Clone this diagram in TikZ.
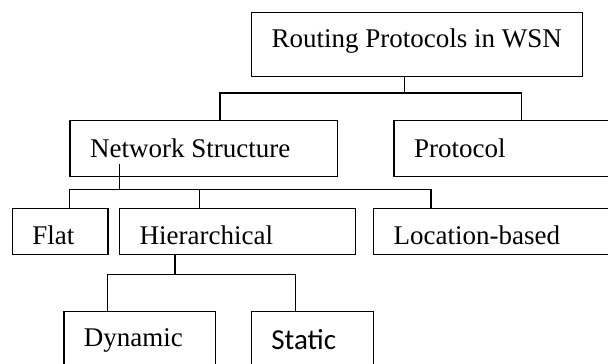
\documentclass[tikz,border=0pt]{standalone}
\usepackage{fontspec}
\setmainfont{Liberation Serif}
\newfontfamily\calibrifont{Carlito}
\usetikzlibrary{positioning}

\tikzset{
  box/.style={draw, line width=1.3pt, anchor=north west, inner xsep=20pt, inner ysep=0pt,
    align=flush left, text height=17pt, text depth=0pt, font=\fontsize{27}{30}\selectfont},
  wire/.style={line width=1.3pt}
}

\begin{document}
\begin{tikzpicture}[x=1pt,y=-1pt]
\useasboundingbox (0,0) rectangle (608,364);
\clip (0,0) rectangle (608,364);

\node[box, text width=290.7pt, minimum height=64.3pt, text depth=11.4pt] (rp) at (251,11.7) {Routing Protocols in WSN};
\node[box, text width=227.6pt, minimum height=56pt] (ns) at (69.4,120) {Network Structure};
\node[box, text width=200pt, minimum height=56pt] (pr) at (393.4,120) {Protocol};
\node[box, text width=55.6pt, minimum height=46.3pt, text height=25.6pt] (fl) at (11.7,207.7) {Flat};
\node[box, text width=196pt, minimum height=46pt, text height=25.6pt] (hi) at (119,208) {Hierarchical};
\node[box, text width=220pt, minimum height=46pt, text height=25.6pt] (lb) at (373,208) {Location-based};
\node[box, text width=111.7pt, minimum height=70pt, text height=10pt, text depth=10pt] (dy) at (63.3,311) {Dynamic};
\node[box, text width=82.3pt, minimum height=70pt, text height=15.4pt, text depth=10pt,
  font=\calibrifont\fontsize{29}{32}\selectfont] (st) at (250.7,311) {Static};

% root level
\draw[wire] ([xshift=-12.3pt]rp.south) -- ++(0,15.7) coordinate (b1);
\draw[wire] ([xshift=150.6pt]ns.north west) |- (b1) -| ([xshift=128.3pt]pr.north west);

% network structure
\draw[wire] ([xshift=50pt,yshift=13pt]ns.south west) -- ++(0,25.3) coordinate (b2);
\draw[wire] ([xshift=57.8pt]fl.north west) |- (b2) -| ([xshift=58pt]lb.north west);
\draw[wire] ([xshift=80.3pt]hi.north west) |- (b2);

% hierarchical
\draw[wire] ([xshift=56pt]hi.south west) -- ++(0,19.3) coordinate (b3);
\draw[wire] ([xshift=44pt]dy.north west) |- (b3) -| ([xshift=45pt]st.north west);
\end{tikzpicture}
\end{document}
